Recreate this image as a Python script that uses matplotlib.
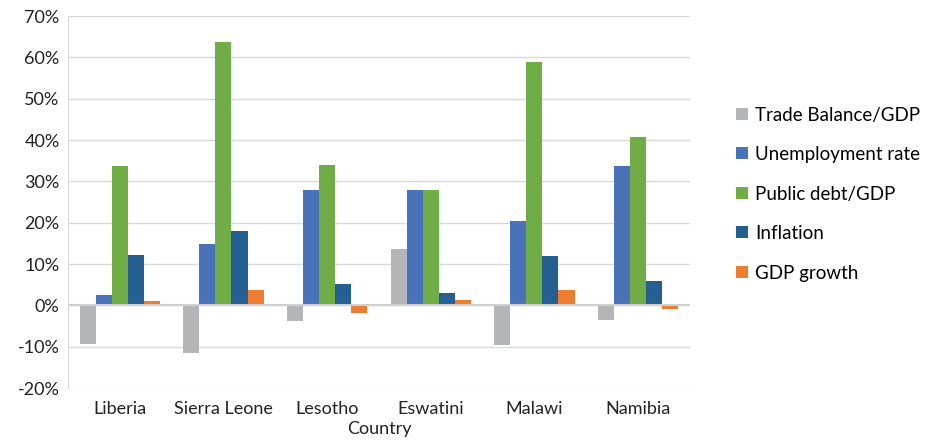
import numpy as np
import matplotlib.pyplot as plt
from matplotlib.ticker import FuncFormatter

plt.rcParams['font.family'] = ['Lato', 'DejaVu Sans']

countries = ['Liberia', 'Sierra Leone', 'Lesotho', 'Eswatini', 'Malawi', 'Namibia']
trade_balance = [-9.3, -11.5, -3.9, 13.6, -9.7, -3.5]
unemployment = [2.6, 14.8, 27.8, 28.0, 20.3, 33.8]
public_debt = [33.8, 63.8, 34.0, 28.0, 58.8, 40.8]
inflation = [12.3, 18.1, 5.1, 3.0, 12.0, 5.9]
gdp_growth = [1.0, 3.6, -1.8, 1.4, 3.8, -0.8]

series = [
    ('Trade Balance/GDP', trade_balance, '#B4B5B9'),
    ('Unemployment rate', unemployment, '#4A72B8'),
    ('Public debt/GDP', public_debt, '#70AD47'),
    ('Inflation', inflation, '#255E91'),
    ('GDP growth', gdp_growth, '#ED7D31'),
]

fig = plt.figure(figsize=(9.31, 4.45), dpi=100)
ax = fig.add_axes([0.073, 0.128, 0.668, 0.836])

x = np.arange(len(countries))
w = 0.155
for k, (name, vals, col) in enumerate(series):
    ax.bar(x + (k - 2) * w, vals, w, color=col, label=name, zorder=3)

ax.set_xlim(-0.5, len(countries) - 0.5)
ax.set_ylim(-20, 70)
ax.set_yticks(np.arange(-20, 71, 10))
ax.yaxis.set_major_formatter(FuncFormatter(lambda v, p: '%d%%' % v))
ax.set_xticks(x)
ax.set_xticklabels(countries)
ax.tick_params(axis='both', length=0, labelsize=13, colors='#222222')
ax.tick_params(axis='x', pad=9)
ax.tick_params(axis='y', pad=6)
ax.grid(axis='y', color='#D9D9D9', linewidth=1, zorder=0)
ax.axhline(0, color='#D0D0D0', linewidth=1.5, zorder=4)
for s in ['top', 'right', 'bottom']:
    ax.spines[s].set_visible(False)
ax.spines['left'].set_color('#D9D9D9')
ax.set_xlabel('Country', fontsize=13, color='#222222', labelpad=3)

fig.legend(loc='center left', bbox_to_anchor=(0.783, 0.564), frameon=False,
           fontsize=13.5, handlelength=0.6, handleheight=0.6, handletextpad=0.4,
           labelspacing=1.2, borderaxespad=0)

fig.savefig('out.png', dpi=100)
